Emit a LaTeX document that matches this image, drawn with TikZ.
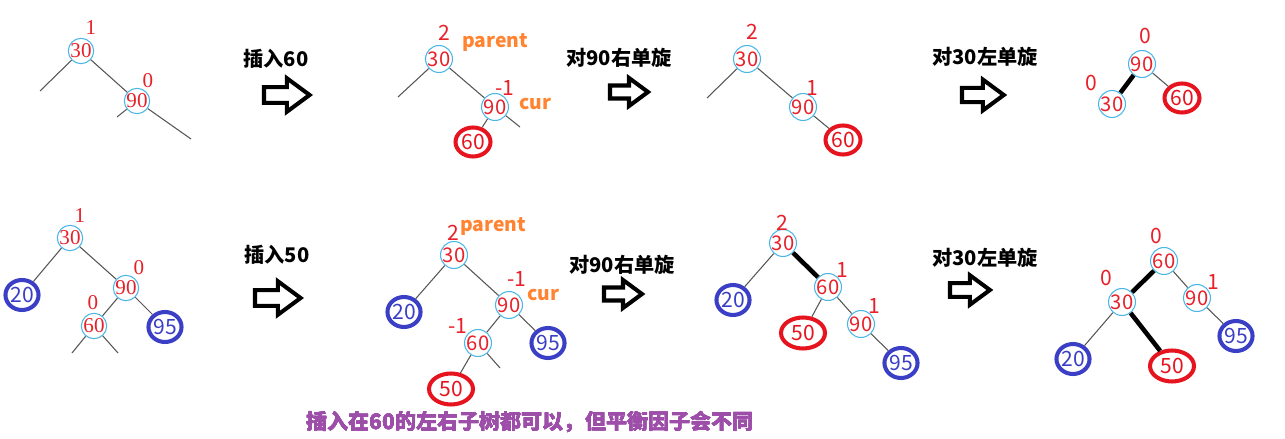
\documentclass[tikz,border=0pt]{standalone}
\usepackage{fontspec}
\usetikzlibrary{shapes.geometric}
\setmainfont{Liberation Serif}
\newfontfamily\cjk{Noto Sans CJK SC}
\definecolor{Key}{HTML}{E8202A}
\definecolor{Ring}{HTML}{4AB6E8}
\definecolor{Fresh}{HTML}{E5141E}
\definecolor{Leaf}{HTML}{3A3FC6}
\definecolor{Tag}{HTML}{FF8330}
\definecolor{Note}{HTML}{9D4EA9}
\definecolor{Edge}{HTML}{555555}
\tikzset{
 every node/.style={inner sep=0pt},
 key/.style={circle,draw=Ring,line width=.6pt,minimum size=.5cm,text=Key,font=\cjk\fontsize{11.5}{12}\selectfont},
 serif/.style={font=\fontsize{12}{12}\selectfont},
 fresh/.style={ellipse,draw=Fresh,line width=2.3pt,minimum width=.7cm,minimum height=.58cm,text=Fresh,font=\cjk\fontsize{12}{12}\selectfont},
 wide/.style={minimum width=.88cm,minimum height=.62cm},
 leaf/.style={ellipse,draw=Leaf,line width=2.3pt,minimum width=.66cm,minimum height=.6cm,text=Leaf,font=\cjk\fontsize{12}{12}\selectfont},
 bf/.style={text=Key,font=\cjk\fontsize{12}{12}\selectfont},
 tag/.style={text=Tag,font=\cjk\bfseries\fontsize{11}{12}\selectfont},
 title/.style={font=\cjk\bfseries\fontsize{11.5}{13}\selectfont},
 edge/.style={draw=Edge,line width=.6pt},
 heavy/.style={draw=black,line width=2.6pt},
 hollow/.style={draw=black,line width=2.3pt,line join=miter},
 }
\newcommand{\hollowarr}[3]{%
 \draw[hollow](#1,#2)++(0,-6.5*#3)--++(19*#3,0)--++(0,-7.5*#3)--++(19*#3,14*#3)
 --++(-19*#3,14*#3)--++(0,-7.5*#3)--++(-19*#3,0)--cycle;}

\begin{document}
\begin{tikzpicture}[x=.02cm,y=-.02cm]
 \useasboundingbox (0,0) rectangle (1285,439);
 % row 1: insert 60
 \node[key,serif] (a30) at (81,51) {30};
 \node[bf,serif] (a30f) at (91,28) {1};
 \node[key,serif] (a90) at (137,101) {90};
 \node[bf,serif] (a90f) at (148,81) {0};
 \coordinate (a30l) at (40,91);
 \coordinate (a90l) at (117,117);
 \coordinate (a90r) at (191,139);
 \draw[edge] (a30)--(a30l) (a30)--(a90) (a90)--(a90l) (a90)--(a90r);
 \node[title] (t1) at (276,59) {插入60};

 \node[key] (b30) at (439,59) {30};
 \node[bf] (b30f) at (444,33) {2};
 \node[tag] (b30t) at (495,43) {parent};
 \node[key] (b90) at (495,107) {90};
 \node[bf] (b90f) at (505,88) {-1};
 \node[tag] (b90t) at (535,104) {cur};
 \node[fresh] (b60) at (473,142) {60};
 \coordinate (b30l) at (398,97);
 \coordinate (b90r) at (520,127);
 \draw[edge] (b30)--(b30l) (b30)--(b90) (b90)--(b60) (b90)--(b90r);
 \node[title] (t2) at (619,58) {对90右单旋};

 \node[key] (c30) at (747,59) {30};
 \node[bf] (c30f) at (752,32) {2};
 \node[key] (c90) at (803,107) {90};
 \node[bf] (c90f) at (812,88) {1};
 \node[fresh] (c60) at (843,140) {60};
 \coordinate (c30l) at (707,98);
 \draw[edge] (c30)--(c30l) (c30)--(c90) (c90)--(c60);
 \node[title] (t3) at (985,57) {对30左单旋};

 \node[key] (d90) at (1142,64) {90};
 \node[bf] (d90f) at (1145,36) {0};
 \node[key] (d30) at (1112,104) {30};
 \node[bf] (d30f) at (1091,83) {0};
 \node[fresh] (d60) at (1182,98) {60};
 \draw[heavy] (d90)--(d30);
 \draw[edge] (d90)--(d60);

 % row 2: insert 50
 \node[key,serif] (e30) at (70,238) {30};
 \node[bf,serif] (e30f) at (80,216) {1};
 \node[leaf] (e20) at (22,295) {20};
 \node[key,serif] (e90) at (126,288) {90};
 \node[bf,serif] (e90f) at (139,268) {0};
 \node[key,serif] (e60) at (94,326) {60};
 \node[bf,serif] (e60f) at (93,303) {0};
 \node[leaf] (e95) at (165,327) {95};
 \coordinate (e60l) at (72,353);
 \coordinate (e60r) at (118,353);
 \draw[edge] (e30)--(e20) (e30)--(e90) (e90)--(e60) (e90)--(e95) (e60)--(e60l) (e60)--(e60r);
 \node[title] (t4) at (277,255) {插入50};

 \node[key] (f30) at (454,255) {30};
 \node[bf] (f30f) at (453,233) {2};
 \node[tag] (f30t) at (493,227) {parent};
 \node[leaf] (f20) at (404,312) {20};
 \node[key] (f90) at (509,305) {90};
 \node[bf] (f90f) at (517,279) {-1};
 \node[tag] (f90t) at (543,295) {cur};
 \node[key] (f60) at (478,343) {60};
 \node[bf] (f60f) at (458,326) {-1};
 \node[leaf] (f95) at (548,343) {95};
 \node[fresh,wide] (f50) at (451,389) {50};
 \coordinate (f60r) at (500,368);
 \draw[edge] (f30)--(f20) (f30)--(f90) (f90)--(f60) (f90)--(f95) (f60)--(f50) (f60)--(f60r);
 \node[title] (t5) at (622,265) {对90右单旋};

 \node[key] (g30) at (783,243) {30};
 \node[bf] (g30f) at (782,223) {2};
 \node[leaf] (g20) at (733,300) {20};
 \node[key] (g60) at (828,287) {60};
 \node[bf] (g60f) at (842,270) {1};
 \node[fresh,wide] (g50) at (803,333) {50};
 \node[key] (g90) at (861,324) {90};
 \node[bf] (g90f) at (874,306) {1};
 \node[leaf] (g95) at (901,363) {95};
 \draw[heavy] (g30)--(g60);
 \draw[edge] (g30)--(g20) (g60)--(g50) (g60)--(g90) (g90)--(g95);
 \node[title] (t6) at (985,258) {对30左单旋};

 \node[key] (h60) at (1164,261) {60};
 \node[bf] (h60f) at (1156,236) {0};
 \node[key] (h30) at (1122,302) {30};
 \node[bf] (h30f) at (1106,278) {0};
 \node[key] (h90) at (1197,298) {90};
 \node[bf] (h90f) at (1213,282) {1};
 \node[leaf] (h20) at (1073,359) {20};
 \node[fresh,wide] (h50) at (1172,366) {50};
 \node[leaf] (h95) at (1236,336) {95};
 \draw[heavy] (h60)--(h30) (h30)--(h50);
 \draw[edge] (h60)--(h90) (h30)--(h20) (h90)--(h95);

 \foreach \ax/\ay/\as in {264/95/1.2,610/92/1,962/95/1.1,255/298/1.2,604/294/1,950/290/1.05}
 \hollowarr{\ax}{\ay}{\as}
 \node[font=\cjk\bfseries\fontsize{12}{14}\selectfont,text=Note] (note) at (530,422) {插入在60的左右子树都可以，但平衡因子会不同};
\end{tikzpicture}
\end{document}
